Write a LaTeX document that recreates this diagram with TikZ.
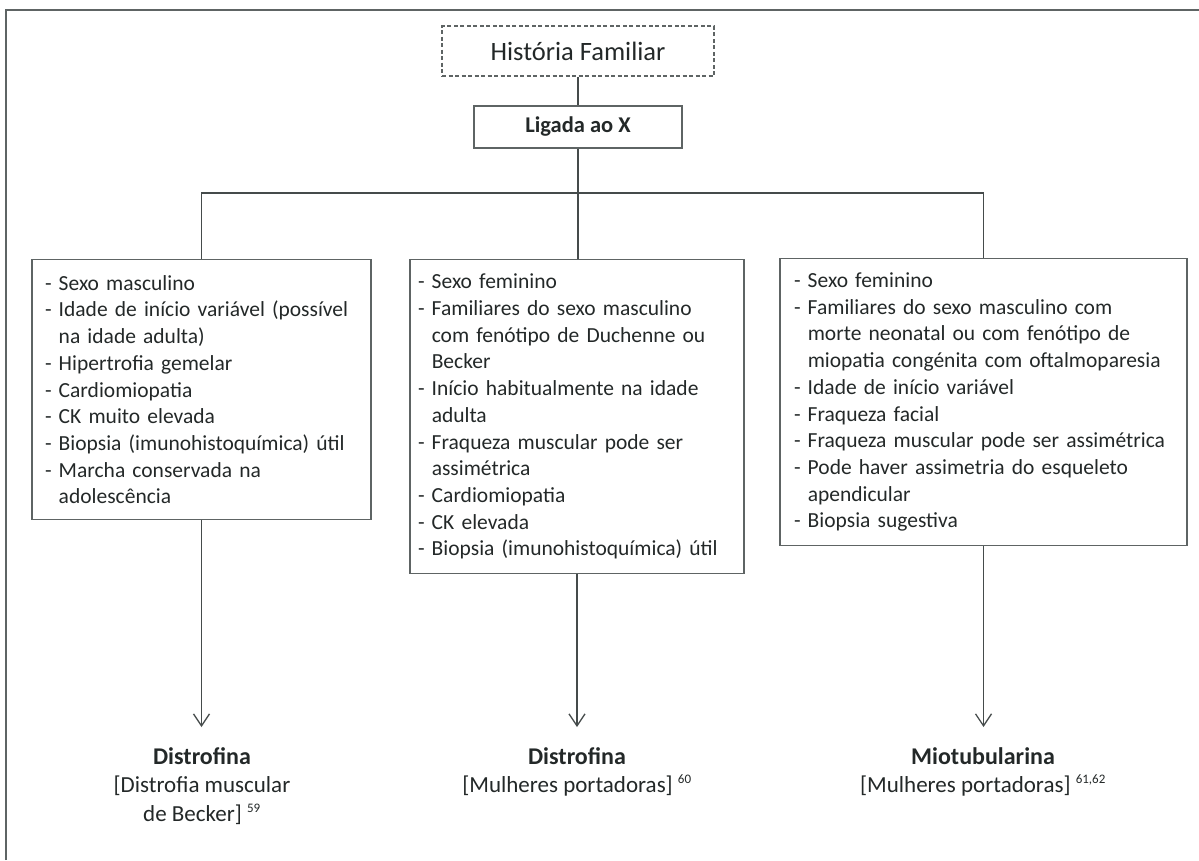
\documentclass[tikz,border=0pt]{standalone}
\usepackage{fontspec}
\setmainfont{Carlito}
\usetikzlibrary{arrows.meta}
\definecolor{ink}{HTML}{232828}
\definecolor{rule}{HTML}{454B4B}
\definecolor{boxline}{HTML}{5E6464}
\newcommand{\contline}{\hphantom{-\ }}
\newcommand{\headword}[1]{{\fontsize{24}{28.5}\selectfont\bfseries #1}}
\newcommand{\refmark}[1]{\textsuperscript{\fontsize{13}{13}\selectfont #1}}
\begin{document}
\begin{tikzpicture}[x=1pt,y=-1pt,
  every node/.style={text=ink},
  framestyle/.style={draw=boxline,line width=1.3pt},
  linkline/.style={draw=rule,line width=1.5pt},
  arrowline/.style={draw=rule,line width=1.4pt,-{Straight Barb[length=12pt,width=16pt,line width=1.3pt]}},
  titlebox/.style={draw=boxline,line width=1.2pt,dash pattern=on 4pt off 2.5pt,
    minimum width=272pt,minimum height=50pt,inner sep=0pt,font=\fontsize{26.5}{30}\selectfont},
  headbox/.style={draw=boxline,line width=1.3pt,minimum width=208pt,minimum height=42pt,
    inner sep=0pt,font=\fontsize{22.5}{27}\selectfont\bfseries},
  infobox/.style={draw=boxline,line width=1.3pt,align=left,anchor=north,inner ysep=0pt,
    font=\fontsize{21.5}{26.7}\selectfont},
  resultlabel/.style={align=center,anchor=north,inner sep=0pt,font=\fontsize{23}{28.5}\selectfont}
]
\useasboundingbox (0,0) rectangle (1199,860);

% outer frame (top and left edges)
\coordinate (fb) at (6,860);
\coordinate (fc) at (6,10);
\coordinate (fr) at (1199,10);
\draw[framestyle] (fb) -- (fc) -- (fr);

% header boxes
\node[titlebox] (hf) at (578,51) {História Familiar};
\node[headbox] (lx) at (578,127) {Ligada ao X};

% criteria boxes
\node[infobox,inner xsep=13pt,text width=313pt,minimum height=260pt] (b1) at (201.5,259) {%
- Sexo masculino\\
- Idade de início variável (possível\\
\contline na idade adulta)\\
- Hipertrofia gemelar\\
- Cardiomiopatia\\
- CK muito elevada\\
- Biopsia (imunohistoquímica) útil\\
- Marcha conservada na\\
\contline adolescência};

\node[infobox,inner xsep=8pt,text width=318pt,minimum height=314pt] (b2) at (577,259) {%
- Sexo feminino\\
- Familiares do sexo masculino\\
\contline com fenótipo de Duchenne ou\\
\contline Becker\\
- Início habitualmente na idade\\
\contline adulta\\
- Fraqueza muscular pode ser\\
\contline assimétrica\\
- Cardiomiopatia\\
- CK elevada\\
- Biopsia (imunohistoquímica) útil};

\node[infobox,inner xsep=14pt,text width=379pt,minimum height=287pt] (b3) at (983.5,258) {%
- Sexo feminino\\
- Familiares do sexo masculino com\\
\contline morte neonatal ou com fenótipo de\\
\contline miopatia congénita com oftalmoparesia\\
- Idade de início variável\\
- Fraqueza facial\\
- Fraqueza muscular pode ser assimétrica\\
- Pode haver assimetria do esqueleto\\
\contline apendicular\\
- Biopsia sugestiva};

% result labels
\node[resultlabel] (r1) at (202,747) {\headword{Distrofina}\\{}[Distrofia muscular\\de Becker] \refmark{59}};
\node[resultlabel] (r2) at (577,747) {\headword{Distrofina}\\{}[Mulheres portadoras] \refmark{60}};
\node[resultlabel] (r3) at (983,747) {\headword{Miotubularina}\\{}[Mulheres portadoras] \refmark{61,62}};

% arrow tips above the labels
\coordinate (a1) at (201.5,727);
\coordinate (a2) at (577,727);
\coordinate (a3) at (983.5,727);

% branching connectors
\coordinate (jl) at (201.5,193);
\coordinate (jc) at (578,193);
\coordinate (jr) at (983.5,193);
\draw[linkline] (hf) -- (lx);
\draw[linkline] (lx) -- (jc);
\draw[linkline] (b1.north) -- (jl) -- (jr) -- (b3.north);
\draw[linkline] (jc) -- (b2.north -| jc);

% arrows to results
\draw[arrowline] (b1.south) -- (a1);
\draw[arrowline] (b2.south) -- (a2);
\draw[arrowline] (b3.south) -- (a3);
\end{tikzpicture}
\end{document}
